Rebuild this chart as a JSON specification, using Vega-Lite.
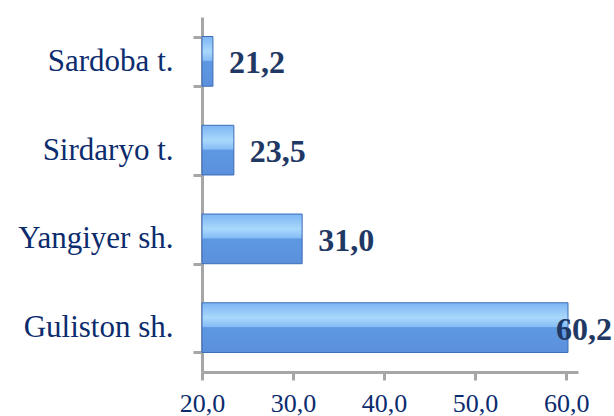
{
  "$schema": "https://vega.github.io/schema/vega-lite/v6.json",
  "width": 376,
  "height": 355,
  "autosize": "none",
  "padding": {"left": 202, "top": 17, "right": 36, "bottom": 44},
  "config": {
    "view": {"stroke": null},
    "locale": {"number": {"decimal": ",", "thousands": " ", "grouping": [3], "currency": ["", ""]}}
  },
  "data": {"values": [
    {"place": "Sardoba t.", "value": 21.2},
    {"place": "Sirdaryo t.", "value": 23.5},
    {"place": "Yangiyer sh.", "value": 31.0},
    {"place": "Guliston sh.", "value": 60.2}
  ]},
  "encoding": {
    "y": {
      "field": "place", "type": "nominal", "sort": null,
      "scale": {"paddingInner": 0.44, "paddingOuter": 0.22},
      "axis": {
        "title": null, "domainColor": "#a6a6a6", "domainWidth": 3,
        "tickColor": "#a6a6a6", "tickWidth": 3, "tickSize": 9, "tickBand": "extent",
        "labelFont": "Liberation Serif", "labelFontSize": 31, "labelColor": "#0c2c6e",
        "labelPadding": 20, "labelLimit": 300
      }
    },
    "x": {
      "field": "value", "type": "quantitative",
      "scale": {"domain": [20, 61.3], "nice": false, "zero": false},
      "axis": {
        "title": null, "values": [20, 30, 40, 50, 60], "format": ".1f", "grid": false,
        "domainColor": "#a6a6a6", "domainWidth": 3,
        "tickColor": "#a6a6a6", "tickWidth": 3, "tickSize": 8,
        "labelFont": "Liberation Serif", "labelFontSize": 26, "labelColor": "#0c2c6e",
        "labelPadding": 10, "labelFlush": false
      }
    }
  },
  "layer": [
    {
      "mark": {
        "type": "bar",
        "stroke": "#3b6db8", "strokeWidth": 1,
        "fill": {
          "gradient": "linear", "x1": 0, "y1": 0, "x2": 0, "y2": 1,
          "stops": [
            {"offset": 0, "color": "#7db5f4"},
            {"offset": 0.3, "color": "#a9d8fc"},
            {"offset": 0.48, "color": "#86bdf6"},
            {"offset": 0.5, "color": "#5e98e2"},
            {"offset": 1, "color": "#5b90dc"}
          ]
        }
      },
      "encoding": {"x2": {"datum": 20}}
    },
    {
      "transform": [{"filter": "datum.value < 50"}],
      "mark": {"type": "text", "align": "left", "baseline": "middle", "dx": 16, "dy": 2,
               "font": "Liberation Serif", "fontSize": 32, "fontWeight": "bold", "fill": "#1f3864"},
      "encoding": {"text": {"field": "value", "type": "quantitative", "format": ".1f"}}
    },
    {
      "transform": [{"filter": "datum.value >= 50"}],
      "mark": {"type": "text", "align": "right", "baseline": "middle", "dx": 44, "dy": 2,
               "font": "Liberation Serif", "fontSize": 32, "fontWeight": "bold", "fill": "#1f3864"},
      "encoding": {"text": {"field": "value", "type": "quantitative", "format": ".1f"}}
    }
  ]
}
